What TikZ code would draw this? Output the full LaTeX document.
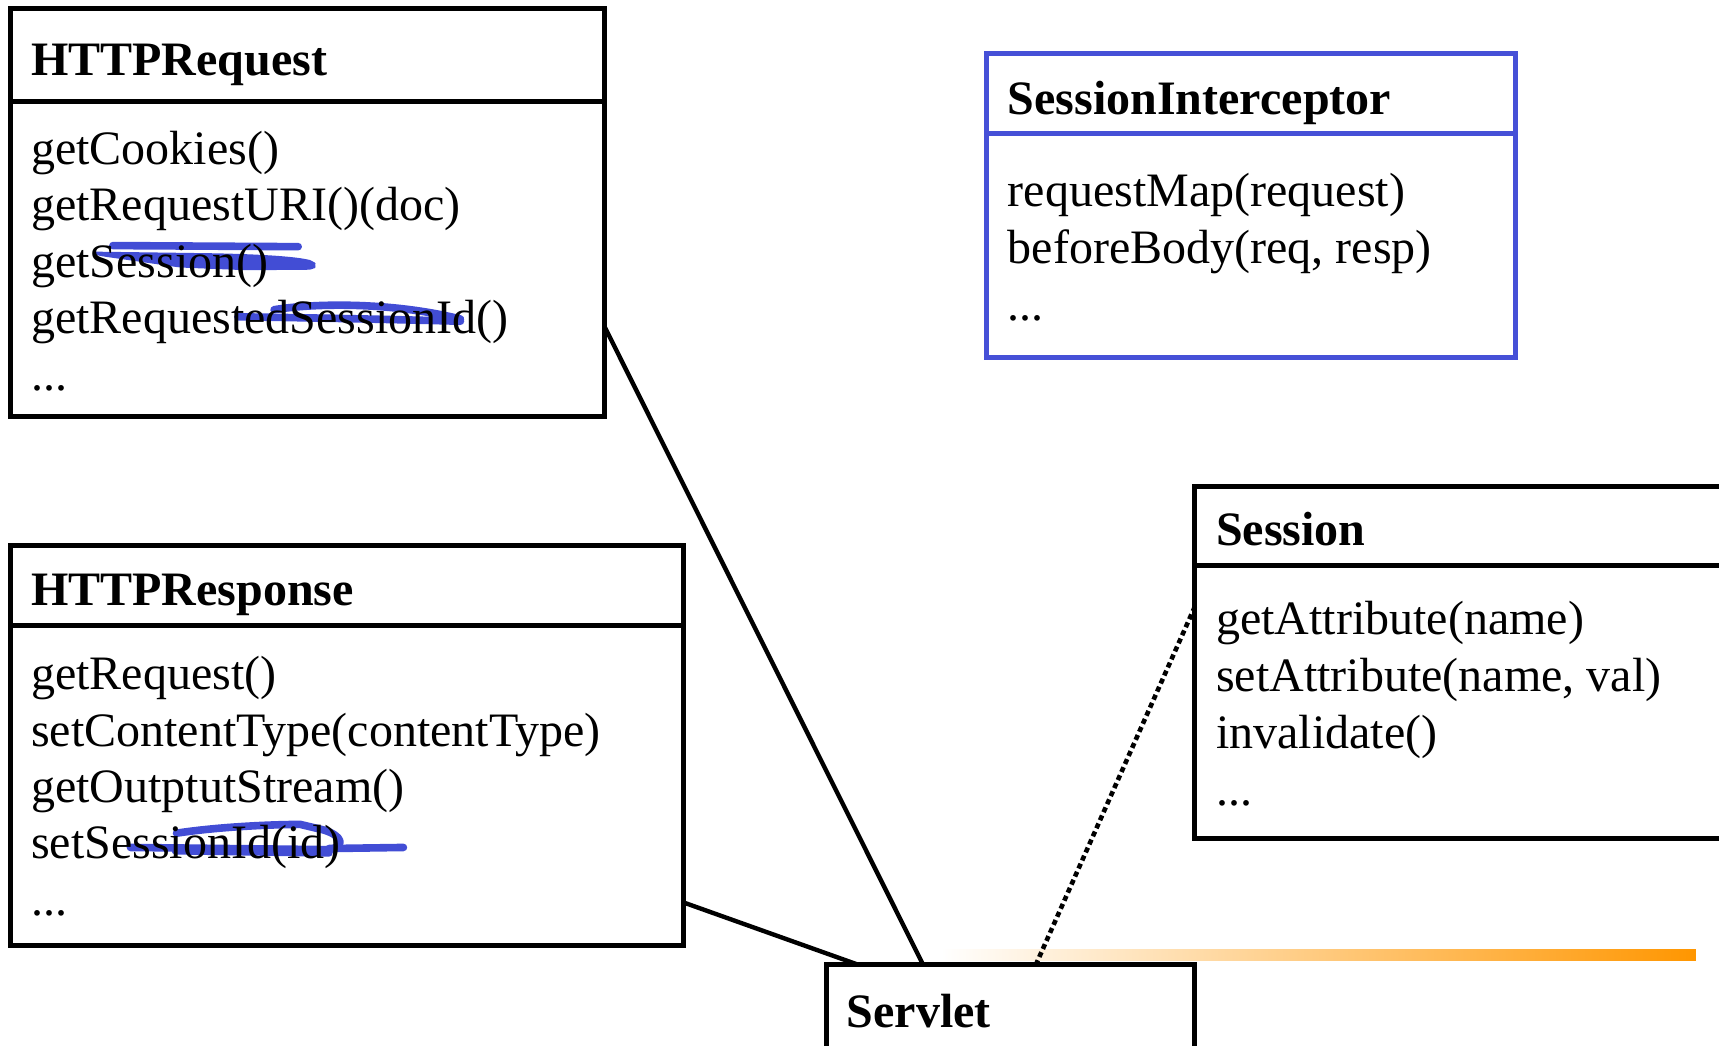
\documentclass[tikz,border=0pt]{standalone}
\usepackage{fontspec}
\setmainfont{Liberation Serif}
\usetikzlibrary{fit,calc}
\definecolor{uiblue}{RGB}{70,80,215}
\definecolor{strikeblue}{RGB}{66,77,213}
\definecolor{barorange}{RGB}{255,150,0}
\begin{document}
\begin{tikzpicture}[x=0.54815pt,y=-0.54815pt,
  box/.style={draw=black,line width=2.5pt,inner sep=0pt,outer sep=0pt,rectangle},
  bluebox/.style={box,draw=uiblue},
  title/.style={anchor=base west,inner sep=0pt,font=\fontsize{24}{28.5}\selectfont\bfseries},
  item/.style={anchor=base west,inner sep=0pt,font=\fontsize{24}{28.5}\selectfont},
  link/.style={line width=2.2pt},
  dotlink/.style={line width=2.3pt,dash pattern=on 2.6pt off 1.8pt},
  strike/.style={draw=strikeblue,line width=3.8pt,line cap=round,line join=round}]
\useasboundingbox (0,0) rectangle (1568,954);
\clip (0,0) rectangle (1568,954);

% gradient bar
\shade[left color=white,right color=barorange] (858,866.5) rectangle (1547,876);

% hand-drawn strike marks (under the text)
\draw[strike] (103,224) -- (272,225);
\fill[strikeblue,rounded corners=2pt] (84,229.5) -- (194,231) .. controls (240,232) and (270,234) .. (286,238)
  -- (289,242) -- (286,246) -- (225,246.5) -- (164,244) -- (88,233) -- cycle;
\draw[strike] (250,282.5) .. controls (290,276) and (360,276) .. (420,291);
\draw[strike] (217,289) .. controls (300,290) and (380,292) .. (420,293);
\draw[strike] (161,760) .. controls (200,754) and (250,752) .. (274,752) -- (295,757)
  .. controls (312,762) and (316,772) .. (300,775) -- (119,773);
\draw[strike] (160,776) -- (300,778);
\draw[strike] (300,774) -- (368,773);

% HTTPRequest
\node[box,fit={(10,8) (551,93)}] (reqH) {};
\node[box,fit={(10,93) (551,380)}] (reqB) {};
\node[title] (reqT) at (28,69) {HTTPRequest};
\node[item] (req1) at (28,150) {getCookies()};
\node[item] (req2) at (28,201.5) {getRequestURI()(doc)};
\node[item] (req3) at (28,253) {getSession()};
\node[item] (req4) at (28,304.5) {getRequestedSessionId()};
\node[item] (req5) at (28,356) {...};

% HTTPResponse
\node[box,fit={(10,498) (623,571)}] (resH) {};
\node[box,fit={(10,571) (623,862)}] (resB) {};
\node[title] (resT) at (28,552) {HTTPResponse};
\node[item] (res1) at (28,629) {getRequest()};
\node[item] (res2) at (28,680.5) {setContentType(contentType)};
\node[item] (res3) at (28,732) {getOutptutStream()};
\node[item] (res4) at (28,783.5) {setSessionId(id)};
\node[item] (res5) at (28,835) {...};

% SessionInterceptor
\node[bluebox,fit={(900,49) (1382,122)}] (siH) {};
\node[bluebox,fit={(900,122) (1382,326)}] (siB) {};
\node[title] (siT) at (919,104) {SessionInterceptor};
\node[item] (si1) at (919,188) {requestMap(request)};
\node[item] (si2) at (919,240) {beforeBody(req, resp)};
\node[item] (si3) at (919,292) {...};

% Session
\node[box,fit={(1090,444) (1620,516)}] (sesH) {};
\node[box,fit={(1090,516) (1620,765)}] (sesB) {};
\node[title] (sesT) at (1109,498) {Session};
\node[item] (ses1) at (1109,579) {getAttribute(name)};
\node[item] (ses2) at (1109,631) {setAttribute(name, val)};
\node[item] (ses3) at (1109,683) {invalidate()};
\node[item] (ses4) at (1109,735) {...};

% Servlet
\node[box,fit={(754,880) (1090,990)}] (srv) {};
\node[title] (srvT) at (772,937) {Servlet};

% connectors
\draw[link] ($(reqB.north east)!0.711!(reqB.south east)$) -- ($(srv.north west)!0.262!(srv.north east)$);
\draw[link] ($(resB.north east)!0.866!(resB.south east)$) -- ($(srv.north west)!0.086!(srv.north east)$);
\draw[dotlink] ($(sesB.north west)!0.149!(sesB.south west)$) -- ($(srv.north west)!0.568!(srv.north east)$);
\end{tikzpicture}
\end{document}
